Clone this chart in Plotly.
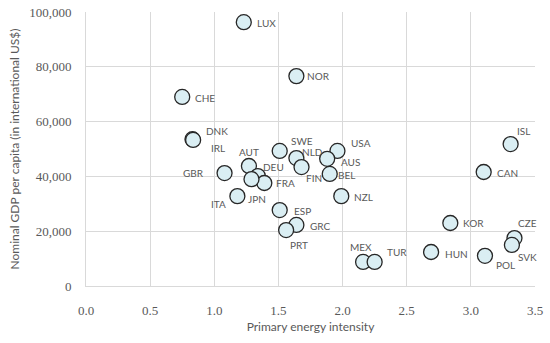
import plotly.graph_objects as go

countries = ["LUX", "NOR", "CHE", "DNK", "IRL", "GBR", "AUT", "DEU", "FRA", "JPN", "ITA",
             "SWE", "NLD", "FIN", "USA", "AUS", "BEL", "NZL", "ESP", "GRC", "PRT",
             "MEX", "TUR", "HUN", "KOR", "CAN", "ISL", "CZE", "SVK", "POL"]
energy_intensity = [1.23, 1.64, 0.75, 0.83, 0.835, 1.08, 1.27, 1.34, 1.39, 1.29, 1.18,
                    1.51, 1.64, 1.68, 1.96, 1.88, 1.90, 1.99, 1.51, 1.64, 1.56,
                    2.16, 2.25, 2.69, 2.84, 3.10, 3.31, 3.34, 3.32, 3.11]
gdp_per_capita = [96300, 76600, 69000, 53600, 53300, 41200, 43800, 40100, 37600, 39000, 32800,
                  49300, 46700, 43400, 49300, 46400, 40900, 32800, 27700, 22300, 20400,
                  8800, 8800, 12400, 23000, 41600, 51800, 17500, 15000, 11000]
x_ticks = [0.0, 0.5, 1.0, 1.5, 2.0, 2.5, 3.0, 3.5]
y_ticks = [0, 20000, 40000, 60000, 80000, 100000]

# label pixel offsets (styling only)
label_offsets = {
    "LUX": (23, -1), "NOR": (22, 0), "CHE": (23, -1), "DNK": (25, 8), "IRL": (25, -8),
    "GBR": (-31, 0), "AUT": (0, 14), "DEU": (16, 9), "FRA": (21, 0), "JPN": (6, -20),
    "ITA": (-19, -8), "SWE": (22, 10), "NLD": (16, 6), "FIN": (12, -11), "USA": (24, 8),
    "AUS": (23, -3), "BEL": (17, -1), "NZL": (22, -1), "ESP": (23, -1), "GRC": (24, -1),
    "PRT": (13, -15), "MEX": (-2, 15), "TUR": (22, 10), "HUN": (25, -2), "KOR": (23, 0),
    "CAN": (24, -1), "ISL": (13, 13), "CZE": (13, 15), "SVK": (16, -12), "POL": (21, -9),
}

fig = go.Figure()
fig.add_trace(go.Scatter(
    x=energy_intensity, y=gdp_per_capita, mode="markers",
    marker=dict(size=15, color="#DAEEF3", line=dict(color="#262626", width=1.3)),
    hoverinfo="skip", showlegend=False, cliponaxis=False,
))

annotations = []
for c, xv, yv in zip(countries, energy_intensity, gdp_per_capita):
    dx, dy = label_offsets[c]
    annotations.append(dict(
        x=xv, y=yv, text=c, showarrow=False, xshift=dx, yshift=dy,
        font=dict(family="Lato", size=10, color="#595959"),
    ))

fig.update_layout(
    width=550, height=343,
    margin=dict(l=86, r=15, t=12, b=57, autoexpand=False),
    paper_bgcolor="white", plot_bgcolor="white",
    annotations=annotations,
    xaxis=dict(
        range=[0, 3.5], tickvals=x_ticks, ticktext=[f"{v:.1f}" for v in x_ticks],
        showgrid=True, gridcolor="#D9D9D9", gridwidth=1, zeroline=False,
        showline=True, linecolor="#D9D9D9", ticks="outside", ticklen=12,
        tickcolor="rgba(0,0,0,0)", automargin=False, ticklabeloverflow="allow",
        tickfont=dict(family="Liberation Serif", size=13, color="#595959"),
        title=dict(text="Primary energy intensity", standoff=6,
                   font=dict(family="Lato", size=12, color="#595959")),
    ),
    yaxis=dict(
        range=[0, 100000], tickvals=y_ticks, ticktext=[f"{v:,}" for v in y_ticks],
        showgrid=True, gridcolor="#D9D9D9", gridwidth=1, zeroline=False,
        showline=True, linecolor="#D9D9D9", ticks="outside", ticklen=11,
        tickcolor="rgba(0,0,0,0)", automargin=False, ticklabeloverflow="allow",
        tickfont=dict(family="Liberation Serif", size=13, color="#595959"),
        title=dict(text="Nominal GDP per capita (in international US$)", standoff=6,
                   font=dict(family="Lato", size=12, color="#595959")),
    ),
)

fig.write_html("out.html", config={"displayModeBar": False},
               post_script="document.body.style.margin='0px';")
